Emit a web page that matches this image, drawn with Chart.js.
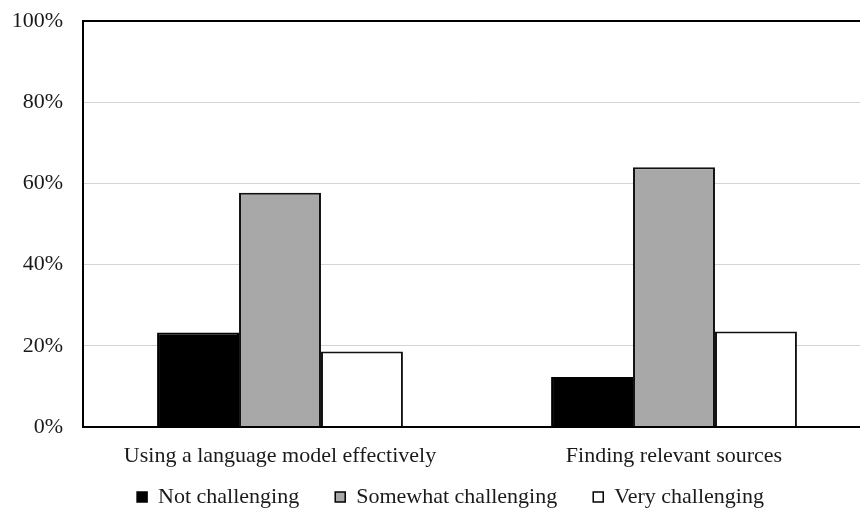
<!DOCTYPE html>
<html>
<head>
<meta charset="utf-8">
<script src="https://cdn.jsdelivr.net/npm/chart.js@4"></script>
<style>
  html, body { margin: 0; padding: 0; background: #fff; overflow: hidden; }
  #wrap { width: 880px; height: 514px; }
</style>
</head>
<body>
<div id="wrap"><canvas id="mycanvas" width="880" height="514"></canvas></div>
<script>
// categories and series (percent)
var categories = ['Using a language model effectively', 'Finding relevant sources'];
var notChallenging = [23.3, 12.3];
var somewhatChallenging = [57.7, 64.0];
var veryChallenging = [18.6, 23.5];
var tickLabels = ['0%', '20%', '40%', '60%', '80%', '100%'];

var serif = '"Liberation Serif", "Times New Roman", serif';

// frame round the plot area
var framePlugin = {
  id: 'frame',
  afterDraw: function(chart) {
    var a = chart.chartArea, ctx = chart.ctx;
    ctx.save();
    ctx.strokeStyle = '#000';
    ctx.lineWidth = 2;
    ctx.strokeRect(a.left, a.top, a.right - a.left, a.bottom - a.top);
    ctx.restore();
  }
};

// nudge the legend: a bit right (centre of the whole page) and up under the labels
var legendNudge = {
  id: 'legendNudge',
  afterLayout: function(chart) {
    var lg = chart.legend;
    lg.left += 15; lg.right += 15;
    lg.top -= 19; lg.bottom -= 19;
  }
};

var ctx = document.getElementById('mycanvas').getContext('2d');
var mychart = new Chart(ctx, {
  type: 'bar',
  data: {
    labels: categories,
    datasets: [
      { label: 'Not challenging', data: notChallenging, backgroundColor: '#000', borderColor: '#000', borderWidth: 2 },
      { label: 'Somewhat challenging', data: somewhatChallenging, backgroundColor: '#a8a8a8', borderColor: '#111', borderWidth: 2 },
      { label: 'Very challenging', data: veryChallenging, backgroundColor: '#fff', borderColor: '#111', borderWidth: 2 }
    ]
  },
  options: {
    responsive: false,
    animation: false,
    layout: { padding: { top: 21, right: 9, bottom: -23, left: 0 } },
    datasets: { bar: { categoryPercentage: 0.624, barPercentage: 1.0 } },
    scales: {
      x: {
        afterFit: function(scale) { scale.height = 42; },
        grid: { display: false, drawTicks: false },
        border: { color: '#000', width: 2 },
        ticks: { color: '#1a1a1a', font: { family: serif, size: 22 }, padding: 16, maxRotation: 0 }
      },
      y: {
        min: 0, max: 100,
        afterFit: function(scale) {
          scale.width = 83;
          scale.paddingTop = 0;
          scale.paddingBottom = 0;
        },
        grid: { color: '#d4d4d4', lineWidth: 1, drawTicks: false },
        border: { color: '#000', width: 2 },
        ticks: {
          stepSize: 20, padding: 20, color: '#1a1a1a',
          font: { family: serif, size: 22 },
          callback: function(v) { return tickLabels[v / 20]; }
        }
      }
    },
    plugins: {
      legend: {
        position: 'bottom',
        labels: {
          color: '#1a1a1a',
          font: { family: serif, size: 22 },
          boxWidth: 10, boxHeight: 10, padding: 36,
          generateLabels: function(chart) {
            return chart.data.datasets.map(function(ds, i) {
              return { text: ds.label, fillStyle: ds.backgroundColor, strokeStyle: '#000', lineWidth: 1.5, fontColor: '#1a1a1a', datasetIndex: i };
            });
          }
        }
      },
      tooltip: { enabled: false }
    }
  },
  plugins: [framePlugin, legendNudge]
});
</script>
</body>
</html>
